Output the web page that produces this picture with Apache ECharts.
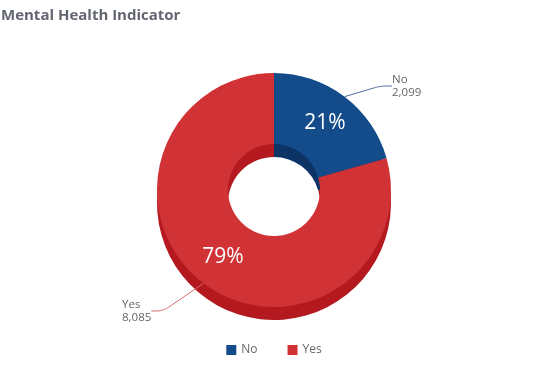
<!DOCTYPE html>
<html>
<head>
<meta charset="utf-8">
<script src="https://cdn.jsdelivr.net/npm/echarts@6/dist/echarts.min.js"></script>
<style>
html,body{margin:0;padding:0;background:#fff;}
#c{width:548px;height:384px;}
</style>
</head>
<body>
<div id="c"></div>
<script>
var categories = ['No', 'Yes'];
var values = [2099, 8085];
var colors = ['#144b8b', '#d03236'];
var sideColors = ['#0d3467', '#b3191e'];

var chart = echarts.init(document.getElementById('c'), null, {renderer: 'canvas'});
var font = '"Open Sans", "Noto Sans", sans-serif';

function mk(cols) {
  return categories.map(function (n, i) {
    return {name: n, value: values[i], itemStyle: {color: cols[i]}};
  });
}

var option = {
  animation: false,
  title: {
    text: 'Mental Health Indicator',
    left: 1, top: 8, padding: 0,
    textStyle: {fontFamily: font, fontSize: 15, fontWeight: 'bold', color: '#62666f'}
  },
  legend: {
    bottom: 23, left: 'center',
    icon: 'rect', itemWidth: 10, itemHeight: 10, itemGap: 30,
    textStyle: {fontFamily: font, fontSize: 12, color: '#666'},
    data: categories.map(function (n, i) { return {name: n, itemStyle: {color: colors[i]}}; })
  },
  series: [
    {
      type: 'pie', name: 'top', z: 3,
      center: [274, 190], radius: [46, 117],
      startAngle: 90, clockwise: true,
      data: mk(colors),
      itemStyle: {borderWidth: 0},
      label: {
        show: true, position: 'inside',
        formatter: function (p) { return Math.round(p.percent) + '%'; },
        color: '#fff', fontFamily: font, fontSize: 21
      },
      labelLine: {show: false},
      emphasis: {disabled: true}
    },
    {
      type: 'pie', name: 'side', z: 1, silent: true,
      center: [274, 203], radius: [46, 117],
      startAngle: 90, clockwise: true,
      data: mk(sideColors),
      label: {show: false}, labelLine: {show: false},
      emphasis: {disabled: true}
    },
    {
      type: 'pie', name: 'labels', z: 4, silent: true,
      center: [274, 190], radius: [46, 117],
      startAngle: 90, clockwise: true,
      data: categories.map(function (n, i) {
        return {name: n, value: values[i], itemStyle: {color: 'transparent'},
          labelLine: {lineStyle: {color: i === 0 ? '#4a6f9c' : '#d9666a'}}};
      }),
      label: {
        show: true, position: 'outside',
        formatter: function (p) { return p.name + '\n' + p.value.toLocaleString('en-US'); },
        color: '#666', fontFamily: font, fontSize: 11.5, lineHeight: 13,
        alignTo: 'none'
      },
      labelLayout: function (p) {
        if (p.dataIndex === 0) return {x: 392, y: 73, align: 'left', verticalAlign: 'top'};
        return {x: 122, y: 298, align: 'left', verticalAlign: 'top'};
      },
      labelLine: {show: true, length: 18, length2: 12, smooth: 0.3, lineStyle: {width: 1}},
      emphasis: {disabled: true}
    }
  ]
};
chart.setOption(option);
</script>
</body>
</html>
